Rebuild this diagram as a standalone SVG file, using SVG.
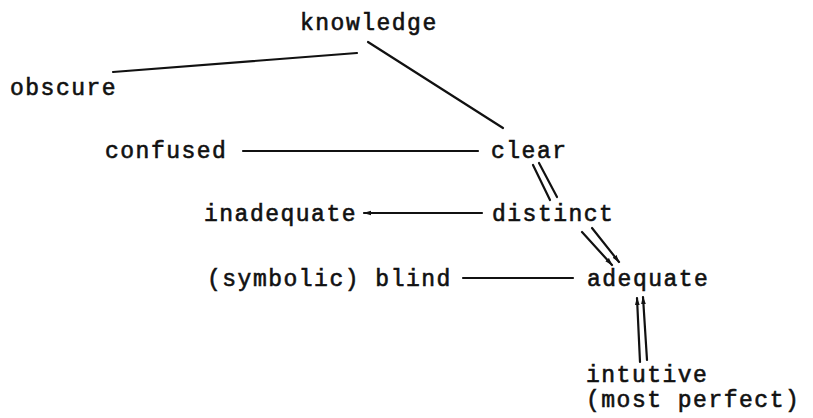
<svg xmlns="http://www.w3.org/2000/svg" width="813" height="418" viewBox="0 0 813 418">
<style>
text{font-family:"Liberation Mono","DejaVu Sans Mono",monospace;font-size:23px;letter-spacing:1.5px;fill:#111;stroke:#111;stroke-width:0.6px;}
.c{stroke:#111;stroke-width:2.2;fill:none;stroke-linecap:round;}
</style>
<defs>
<marker id="ah" viewBox="0 0 10 10" refX="9" refY="5" markerWidth="8" markerHeight="8" orient="auto" markerUnits="userSpaceOnUse">
<path d="M0,2 L10,5 L0,8 Z" fill="#111"/>
</marker>
</defs>
<rect width="813" height="418" fill="#fff"/>
<g id="connectors">
<line class="c" x1="113" y1="72" x2="357" y2="53"/>
<line class="c" x1="368" y1="42" x2="503" y2="128"/>
<line class="c" x1="243" y1="151" x2="478" y2="151"/>
<line class="c" x1="482" y1="213" x2="364" y2="213" marker-end="url(#ah)"/>
<line class="c" x1="463" y1="278" x2="573" y2="278"/>
<line class="c" x1="533" y1="165" x2="550" y2="200"/>
<line class="c" x1="539" y1="163" x2="557" y2="197"/>
<line class="c" x1="582" y1="232" x2="612" y2="265" marker-end="url(#ah)"/>
<line class="c" x1="592" y1="228" x2="619" y2="262" marker-end="url(#ah)"/>
<line class="c" x1="640" y1="362" x2="637" y2="298" marker-end="url(#ah)"/>
<line class="c" x1="647" y1="360" x2="643" y2="297" marker-end="url(#ah)"/>
</g>
<g id="knowledge"><text x="300" y="30">knowledge</text></g>
<g id="obscure"><text x="10" y="95">obscure</text></g>
<g id="confused"><text x="105" y="158">confused</text></g>
<g id="clear"><text x="491" y="158">clear</text></g>
<g id="inadequate"><text x="204" y="221">inadequate</text></g>
<g id="distinct"><text x="492" y="221">distinct</text></g>
<g id="blind"><text x="207" y="286">(symbolic) blind</text></g>
<g id="adequate"><text x="587" y="286">adequate</text></g>
<g id="intutive"><text x="586" y="382">intutive</text><text x="586" y="407">(most perfect)</text></g>
</svg>
